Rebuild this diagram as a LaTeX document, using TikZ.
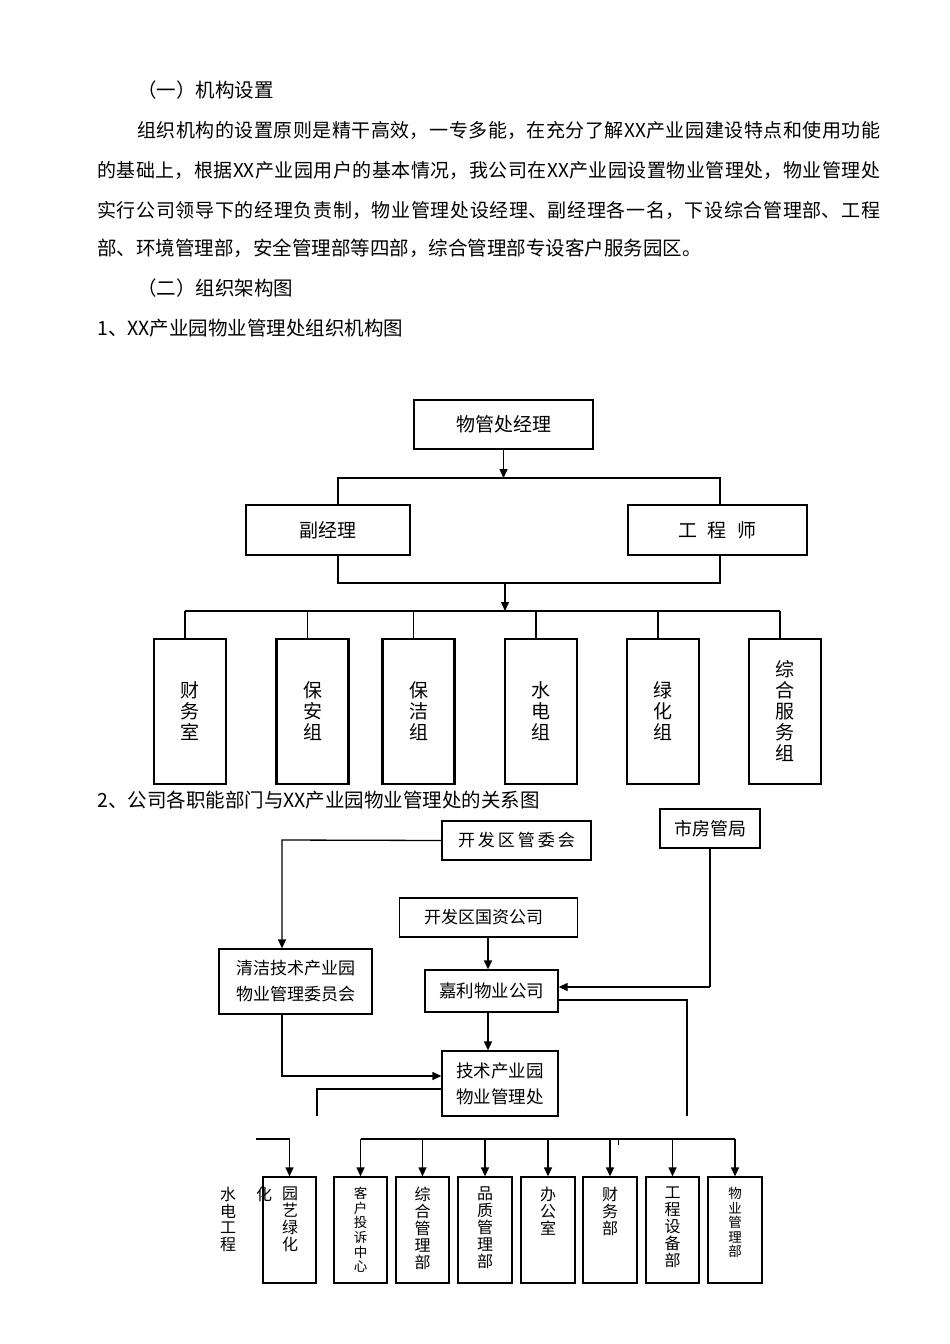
\documentclass[tikz,border=0pt]{standalone}
\usepackage{fontspec}
\setmainfont{Noto Sans CJK SC}
\usetikzlibrary{arrows.meta}
\XeTeXlinebreaklocale "zh"
\XeTeXlinebreakskip=0pt plus 2pt
\newcommand\jline[2]{\parbox{#1}{\fontsize{19}{22}\selectfont\parindent=0pt\parfillskip=0pt #2}}
\tikzset{
  bx/.style={draw, line width=1.3pt, inner sep=0pt, align=center, font=\fontsize{19}{22}\selectfont},
  tb/.style={draw, line width=2.2pt, inner sep=0pt, minimum width=72pt, minimum height=145pt, align=center, font=\fontsize{19}{21}\selectfont},
  lb/.style={draw, line width=1.3pt, inner sep=0pt, minimum height=106pt},
  vt/.style={inner sep=0pt, anchor=north, align=center, font=\fontsize{16}{17}\selectfont},
  vts/.style={inner sep=0pt, anchor=north, align=center, font=\fontsize{13.5}{14.6}\selectfont},
  ln/.style={line width=1.3pt},
  arr/.style={line width=1.3pt, -{Triangle[length=9pt,width=8pt]}},
  txt/.style={anchor=west, inner sep=0pt, font=\fontsize{19.5}{22}\selectfont},
}
\begin{document}
\begin{tikzpicture}[x=1pt,y=-1pt]
\useasboundingbox[fill=white] (0,0) rectangle (950,1344);
% body text
\node[txt] (t0) at (137,90) {（一）机构设置};
\node[txt] (t1) at (137,130) {\jline{743pt}{组织机构的设置原则是精干高效，一专多能，在充分了解XX产业园建设特点和使用功能}};
\node[txt] (t2) at (97,170) {\jline{783pt}{的基础上，根据XX产业园用户的基本情况，我公司在XX产业园设置物业管理处，物业管理处}};
\node[txt] (t3) at (97,210) {\jline{783pt}{实行公司领导下的经理负责制，物业管理处设经理、副经理各一名，下设综合管理部、工程}};
\node[txt] (t4) at (97,248) {部、环境管理部，安全管理部等四部，综合管理部专设客户服务园区。};
\node[txt] (t5) at (137,288) {（二）组织架构图};
\node[txt] (t6) at (97,328) {1、XX产业园物业管理处组织机构图};
\node[txt] (t7) at (97,800) {2、公司各职能部门与XX产业园物业管理处的关系图};
% chart 1
\node[bx, minimum width=179pt, minimum height=49pt] (mgr) at (503.5,424.5) {物管处经理};
\node[bx, minimum width=164pt, minimum height=50pt] (fjl) at (328,530) {副经理};
\node[bx, minimum width=179pt, minimum height=50pt] (gcs) at (717.5,530) {工\hspace{11pt}程\hspace{11pt}师};
\coordinate (u1) at (338,478); \coordinate (u2) at (720,478);
\draw[arr] (mgr.south) -- (mgr.south |- u1);
\draw[line width=2.5pt] (fjl.north -| u1) -- (u1) -- (u2) -- (gcs.north -| u2);
\coordinate (l1) at (338,583); \coordinate (l2) at (720,583);
\draw[ln] (fjl.south -| l1) -- (l1) -- (l2) -- (gcs.south -| l2);
\coordinate (m1) at (505,583); \coordinate (m2) at (505,611);
\draw[arr] (m1) -- (m2);
\node[tb] (b1) at (190,711.5) {财\\务\\室};
\node[tb] (b2) at (312.5,711.5) {保\\安\\组};
\node[tb] (b3) at (418.5,711.5) {保\\洁\\组};
\node[tb] (b4) at (541,711.5) {水\\电\\组};
\node[tb] (b5) at (663,711.5) {绿\\化\\组};
\node[tb] (b6) at (785,711.5) {综\\合\\服\\务\\组};
\coordinate (bL) at (185,611); \coordinate (bR) at (780,611);
\draw[ln] (bL) -- (bR);
\foreach \n in {b1,b2,b3,b4,b5,b6}
  \draw[ln] ([xshift=-5pt]\n.north) -- ([xshift=-5pt]\n.north |- bL);
% chart 2
\node[bx, minimum width=100pt, minimum height=39pt, font=\fontsize{18}{20}\selectfont] (sfj) at (710,828.5) {市房管局};
\node[bx, minimum width=149pt, minimum height=39pt, font=\fontsize{17}{20}\selectfont] (gwh) at (516.5,840.5) {开\hspace{3pt}发\hspace{3pt}区\hspace{3pt}管\hspace{3pt}委\hspace{3pt}会};
\node[bx, minimum width=178pt, minimum height=39pt, font=\fontsize{17}{20}\selectfont] (gzgs) at (488.5,917.5) {开发区国资公司\hspace*{10pt}};
\node[bx, minimum width=153pt, minimum height=65pt, font=\fontsize{17}{26}\selectfont] (qj) at (295.5,981.5) {清洁技术产业园\\物业管理委员会};
\node[bx, minimum width=133pt, minimum height=42pt, font=\fontsize{17.5}{20}\selectfont] (jl) at (491.5,991) {嘉利物业公司};
\node[bx, minimum width=116pt, minimum height=65pt, font=\fontsize{17.5}{26}\selectfont] (js) at (500,1083.5) {技术产业园\\物业管理处};
\coordinate (xa) at (488,0);
\coordinate (ya) at (0,987);
\coordinate (qa) at (282,840);
\draw[arr] (gwh.west) -- (qa) -- (qa |- qj.north);
\draw[arr] (gzgs.south -| xa) -- (jl.north -| xa);
\draw[line width=2.5pt] (sfj.south) -- (sfj.south |- ya);
\draw[arr] (sfj.south |- ya) -- (jl.east |- ya);
\coordinate (cr) at (687,1116);
\draw[ln] ([yshift=-9pt]jl.east) -| (cr);
\draw[arr] (jl.south -| xa) -- (js.north -| xa);
\draw[arr] (qa |- qj.south) |- ([yshift=7.5pt]js.west);
\coordinate (cl) at (317,1116);
\draw[ln] ([yshift=-5.5pt]js.west) -| (cl);
% lower row
\node[lb, minimum width=53pt] (yy) at (289.5,1230) {};
\node[lb, minimum width=53pt] (kh) at (360.5,1230) {};
\node[lb, minimum width=53pt] (zh) at (422.5,1230) {};
\node[lb, minimum width=54pt] (pz) at (485,1230) {};
\node[lb, minimum width=54pt] (bg) at (548,1230) {};
\node[lb, minimum width=54pt] (cw) at (610,1230) {};
\node[lb, minimum width=53pt] (gc) at (672.5,1230) {};
\node[lb, minimum width=54pt] (wy) at (735,1230) {};
\coordinate (kb) at (360,1139);
\draw[ln] (kh.north |- kb) -- (wy.north |- kb);
\foreach \n in {kh,zh,pz,bg,cw,gc,wy}
  \draw[arr] (\n.north |- kb) -- (\n.north);
\coordinate (yb) at (256,1139);
\draw[arr] (yb) -| (yy.north);
\coordinate (tk) at (618,1139);
\draw[line width=0.6pt] (tk) -- ++(0,6);
\node[vt] (yyT) at (290,1187) {园\\艺\\绿\\化};
\node[vts] (khT) at (360.5,1187) {客\\户\\投\\诉\\中\\心};
\node[vt] (zhT) at (422.5,1187) {综\\合\\管\\理\\部};
\node[vt] (pzT) at (485,1187) {品\\质\\管\\理\\部};
\node[vt] (bgT) at (548,1187) {办\\公\\室};
\node[vt] (cwT) at (610,1187) {财\\务\\部};
\node[vt] (gcT) at (672.5,1187) {工\\程\\设\\备\\部};
\node[vts] (wyT) at (735,1187) {物\\业\\管\\理\\部};
\node[vt, font=\fontsize{16}{16.5}\selectfont] (sd) at (228,1187) {水\\电\\工\\程};
\node[vt] (hua) at (264,1187) {化};
\end{tikzpicture}
\end{document}
